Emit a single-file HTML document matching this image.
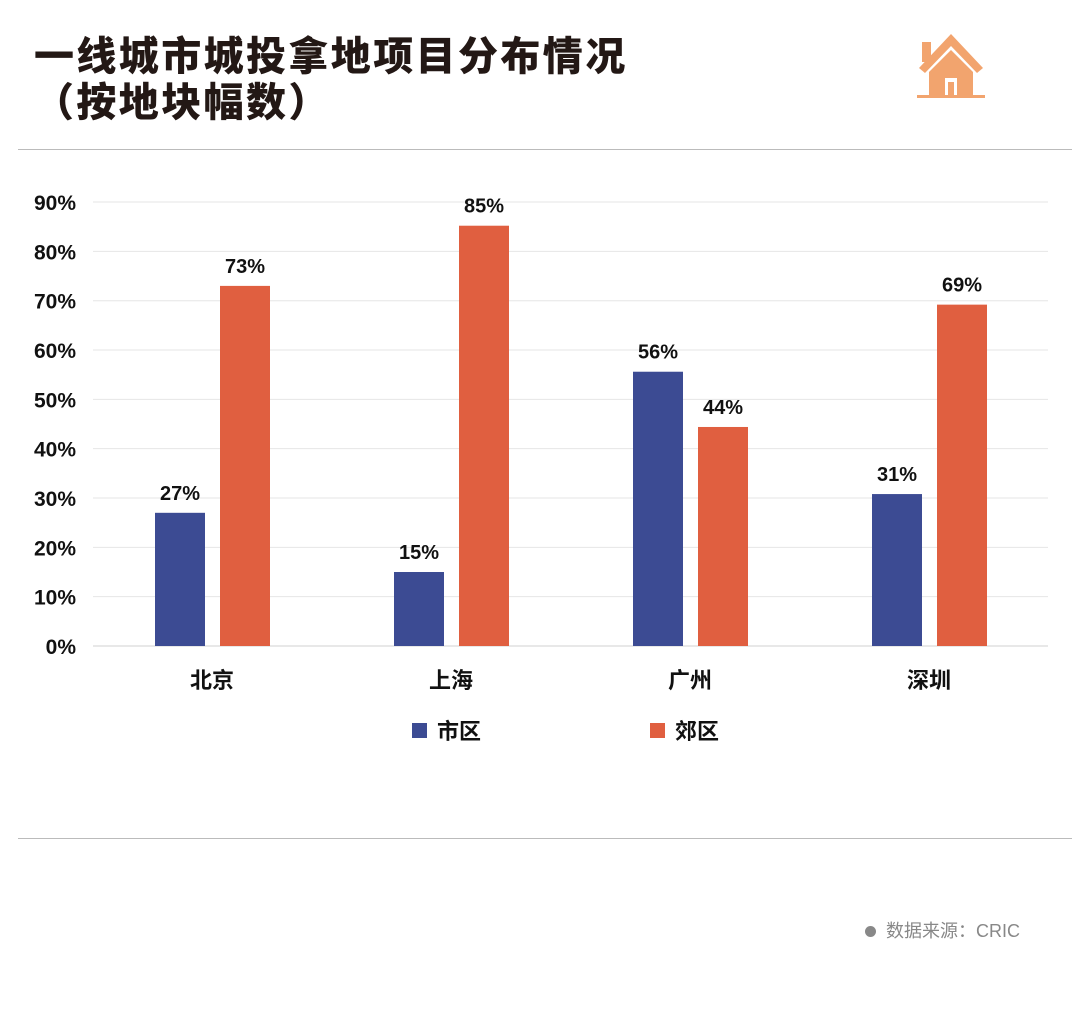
<!DOCTYPE html>
<html><head><meta charset="utf-8"><style>
body{margin:0;width:1080px;height:1018px;background:#fff;overflow:hidden;font-family:"Liberation Sans","Noto Sans CJK SC",sans-serif;position:relative}
.t{position:absolute;left:34px;font-size:40px;font-weight:900;color:#231815;letter-spacing:2.4px;line-height:46px}
</style></head><body>
<div class="t" style="top:34px">一线城市城投拿地项目分布情况<br>（按地块幅数）</div>
<svg style="position:absolute;left:915px;top:28px" width="72" height="72" viewBox="0 0 72 72">
<rect x="7" y="14" width="9" height="20" fill="#f2a46e"/>
<polygon points="4,40 36,6 68,40 62,45 36,18 10,45" fill="#f2a46e"/>
<polygon points="14,44 36,22 58,44 58,68 14,68" fill="#f2a46e"/>
<rect x="30" y="50" width="12" height="18" fill="#fff"/><rect x="33" y="54" width="6" height="14" fill="#f2a46e"/>
<rect x="2" y="67" width="68" height="3" fill="#f2a46e"/>
</svg>
<div style="position:absolute;left:18px;top:149px;width:1054px;height:1px;background:#bbb"></div>
<div style="position:absolute;left:18px;top:838px;width:1054px;height:1px;background:#bbb"></div>
<svg id="c" style="position:absolute;left:0;top:0" width="1080" height="1018"></svg>
<div style="position:absolute;left:865px;top:917px;font-size:18px;color:#888"><span style="display:inline-block;width:11px;height:11px;border-radius:50%;background:#888;margin-right:10px"></span>数据来源：CRIC</div>
<script>
const categories=["北京","上海","广州","深圳"];
const urbanValues=[27,15,55.6,30.8];
const suburbValues=[73,85.2,44.4,69.2];
const urbanLabels=["27%","15%","56%","31%"];
const suburbLabels=["73%","85%","44%","69%"];
const ticks=[0,10,20,30,40,50,60,70,80,90];
const svg=document.getElementById('c');const NS='http://www.w3.org/2000/svg';
const y=v=>646-v*4.933;const cx=i=>212+i*239;
function mk(t,a){const e=document.createElementNS(NS,t);for(const k in a)e.setAttribute(k,a[k]);svg.appendChild(e);return e;}
ticks.forEach(t=>{
const l=mk('line',{x1:93,x2:1048,y1:y(t),y2:y(t),stroke:t?'#e6e6e6':'#d0d0d0','stroke-width':1});


const tx=mk('text',{x:76,y:y(t)+8,'text-anchor':'end','font-size':21,'font-weight':'bold',fill:'#111'});tx.textContent=t+'%';


});
categories.forEach((c,i)=>{
[[urbanValues,urbanLabels,'#3c4b93',-57],[suburbValues,suburbLabels,'#e05f40',8]].forEach(([v,lb,col,off])=>{
const r=mk('rect',{x:cx(i)+off,y:y(v[i]),width:50,height:646-y(v[i]),fill:col});


const t=mk('text',{x:cx(i)+off+25,y:y(v[i])-13,'text-anchor':'middle','font-size':20,'font-weight':'bold',fill:'#111'});t.textContent=lb[i];


});
const t=mk('text',{x:cx(i),y:688,'text-anchor':'middle','font-size':22,'font-weight':'bold',fill:'#111'});t.textContent=c;


});
[['市区','#3c4b93',412],['郊区','#e05f40',650]].forEach(([n,col,x])=>{
const r=mk('rect',{x:x,y:723,width:15,height:15,fill:col});


const t=mk('text',{x:x+25,y:739,'font-size':22,'font-weight':'bold',fill:'#111'});t.textContent=n;


});
</script>
</body></html>
